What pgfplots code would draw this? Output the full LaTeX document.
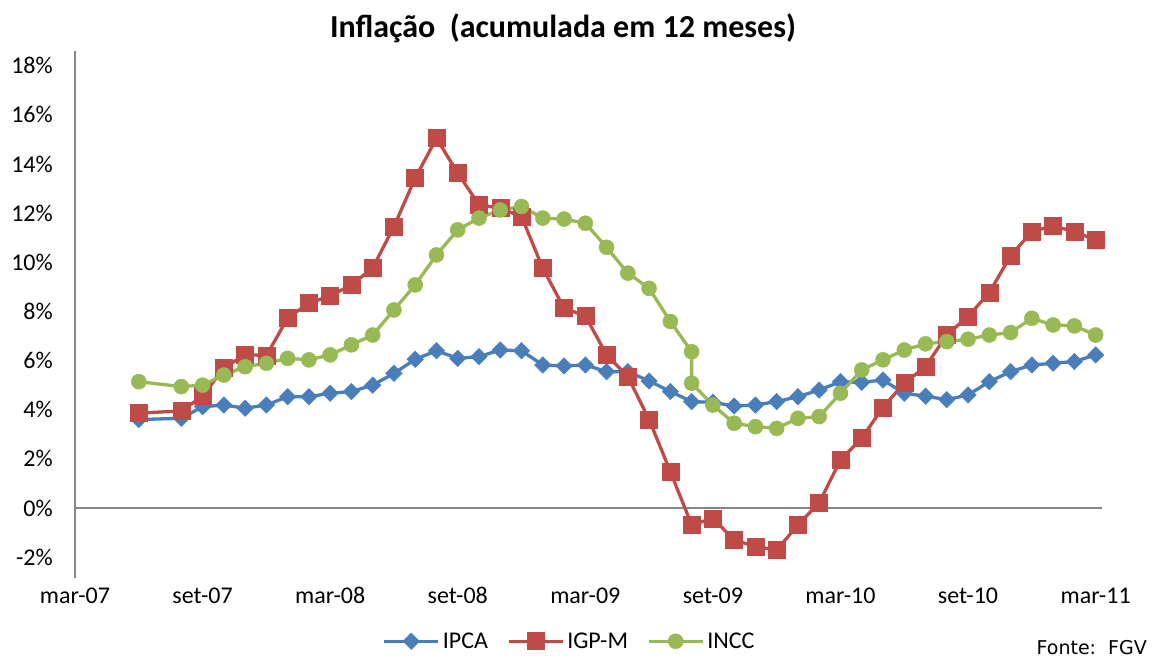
\documentclass[border=0pt]{standalone}
\usepackage{pgfplots}
\pgfplotsset{compat=1.18}
\usepackage{fontspec}
\setmainfont{Carlito}
\newfontfamily\fontefont{DejaVu Sans}
\definecolor{ipca}{HTML}{4A7EBB}
\definecolor{igpm}{HTML}{BE4B48}
\definecolor{incc}{HTML}{98B954}
\definecolor{axgray}{HTML}{868686}

\pgfplotstableread{
m ipca igpm
3 3.60 3.86
5 3.65 3.95
6 4.12 4.55
7 4.19 5.69
8 4.06 6.25
9 4.19 6.20
10 4.53 7.73
11 4.53 8.34
12 4.67 8.63
13 4.74 9.08
14 5.00 9.77
15 5.48 11.46
16 6.05 13.43
17 6.40 15.05
18 6.09 13.63
19 6.16 12.34
20 6.43 12.20
21 6.40 11.86
22 5.82 9.76
23 5.78 8.13
24 5.82 7.82
25 5.55 6.23
26 5.55 5.35
27 5.17 3.60
28 4.74 1.48
29 4.33 -0.69
30 4.30 -0.42
31 4.15 -1.30
32 4.19 -1.57
33 4.33 -1.71
34 4.53 -0.69
35 4.80 0.22
36 5.14 1.95
37 5.11 2.84
38 5.21 4.10
39 4.67 5.08
40 4.55 5.75
41 4.41 7.05
42 4.60 7.79
43 5.14 8.77
44 5.55 10.26
45 5.82 11.25
46 5.89 11.48
47 5.96 11.25
48 6.23 10.91
}\maindata

\pgfplotstableread{
m incc
3 5.14
5 4.94
6 5.00
7 5.41
8 5.75
9 5.89
10 6.09
11 6.03
12 6.23
13 6.64
14 7.04
15 8.06
16 9.08
17 10.30
18 11.32
19 11.80
20 12.13
21 12.27
22 11.80
23 11.76
24 11.59
25 10.61
26 9.56
27 8.94
28 7.59
29 6.36
29 5.08
30 4.19
31 3.45
32 3.31
33 3.24
34 3.65
35 3.72
36 4.67
37 5.62
38 6.03
39 6.43
40 6.68
41 6.77
42 6.87
43 7.04
44 7.14
45 7.72
46 7.45
47 7.41
48 7.04
}\inccdata

\begin{document}
\begin{tikzpicture}[x=1pt,y=1pt]
\begin{axis}[
  at={(0pt,0pt)}, anchor=south west,
  scale only axis, width=1027pt, height=527pt,
  xmin=0, xmax=48.3, ymin=-2.85, ymax=18.6,
  axis lines*=left,
  x axis line style={draw=none},
  y axis line style={axgray, line width=1.5pt},
  xtick={0,6,...,48},
  xticklabels={mar-07,set-07,mar-08,set-08,mar-09,set-09,mar-10,set-10,mar-11},
  ytick={-2,0,...,18},
  yticklabels={-2\%,0\%,2\%,4\%,6\%,8\%,10\%,12\%,14\%,16\%,18\%},
  major tick length=0pt,
  tick style={draw=none},
  ticklabel style={font=\fontsize{24}{28}\selectfont, text=black, inner sep=0pt},
  xticklabel style={anchor=base, yshift=-25pt},
  yticklabel style={anchor=east, xshift=-22pt},
  extra y ticks={0}, extra y tick labels={},
  extra y tick style={grid=major, major grid style={axgray, line width=1.5pt}},
  clip=false,
  legend columns=3,
  legend style={draw=none, at={(0.482,-0.12)}, anchor=center,
    font=\fontsize{24}{28}\selectfont, inner sep=0pt,
    /tikz/every even column/.append style={column sep=16pt},
    nodes={inner xsep=3pt}},
  legend image code/.code={\draw[mark repeat=2,mark phase=2,#1] plot coordinates {(0pt,0pt) (27pt,0pt) (54pt,0pt)};},
]
\addplot[ipca, line width=3.3pt, mark=square*, mark size=5.8pt,
  mark options={rotate=45, fill=ipca, draw=ipca, line width=0.5pt}]
  table[x=m, y=ipca] {\maindata};
\addlegendentry{IPCA}
\addplot[igpm, line width=3.3pt, mark=square*, mark size=8.5pt,
  mark options={fill=igpm, draw=igpm, line width=0.5pt}]
  table[x=m, y=igpm] {\maindata};
\addlegendentry{IGP-M}
\addplot[incc, line width=3.3pt, mark=*, mark size=7.5pt,
  mark options={fill=incc, draw=incc, line width=0.5pt}]
  table[x=m, y=incc] {\inccdata};
\addlegendentry{INCC}
\end{axis}
\node[font=\bfseries\fontsize{32}{38}\selectfont, anchor=base] at (488,540) {Inflação\ \ (acumulada em 12 meses)};
\node[font=\fontefont\fontsize{19}{22}\selectfont, anchor=base east, inner sep=0pt] at (1072,-76) {Fonte:\ \ FGV};
\path[use as bounding box] (-75,-79) rectangle (1079,578);
\end{tikzpicture}
\end{document}
